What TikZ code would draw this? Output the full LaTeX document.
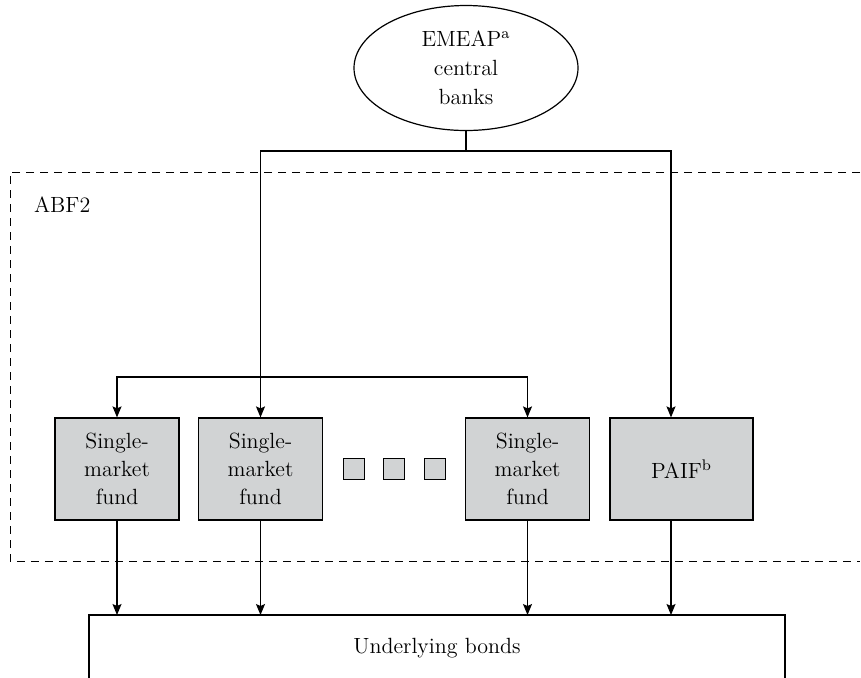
\documentclass[tikz,border=0pt]{standalone}
\usetikzlibrary{shapes.geometric,arrows.meta}
\definecolor{fundgray}{RGB}{209,211,212}
\begin{document}
\begin{tikzpicture}[x=0.5pt,y=-0.5pt,
    font=\fontsize{11}{14}\selectfont,
    fund/.style={draw, fill=fundgray, line width=0.6pt, minimum width=62pt,
      minimum height=51pt, align=center, inner sep=0pt},
    dotbox/.style={draw, fill=fundgray, line width=0.4pt, minimum size=10.5pt, inner sep=0pt},
    link/.style={line width=0.6pt},
    arrow/.style={link, -{Stealth[length=5.5pt,width=4.5pt,inset=1pt]}}]
  \useasboundingbox (0,0) rectangle (861,677);

  % Central banks
  \node[draw, ellipse, line width=0.6pt, minimum width=112pt, minimum height=62.5pt,
    inner sep=0pt, align=center] (banks) at (466,68) {EMEAP\textsuperscript{a}\\[0.6pt]central\\[0.6pt]banks};

  % ABF2 frame (open on the right)
  \draw[dash pattern=on 4pt off 3pt, line width=0.4pt] (860,172) -- (10,172) -- (10,561) -- (860,561);
  \node[anchor=west] (abf) at (27,205) {ABF2};

  % Funds
  \node[fund] (f1) at (117,469) {Single-\\market\\fund};
  \node[fund] (f2) at (260.5,469) {Single-\\market\\fund};
  \node[fund] (f3) at (527.5,469) {Single-\\market\\fund};
  \node[fund, minimum width=71.5pt] (paif) at (681.5,469) {PAIF\textsuperscript{b}};
  \foreach \x/\n in {353.5/1,394/2,434.5/3}
    \node[dotbox] (d\n) at (\x,468.5) {};

  % Underlying bonds (box runs off the bottom)
  \node (bonds) at (437,648) {Underlying bonds};
  \draw[link] (89,680) -- (89,615) coordinate (bl) -- (785,615) -- (785,680);

  % Connectors
  \coordinate (top) at (466,151);
  \coordinate (split) at (f2.north |- 0,377);
  \coordinate (paifin) at ([xshift=-5.25pt]paif.north);
  \coordinate (paifout) at ([xshift=-5.25pt]paif.south);
  \draw[link] (banks.south) -- (top);
  \draw[arrow] (top) -| (f2.north);
  \draw[arrow] (top) -| (paifin);
  \draw[arrow] (split) -| (f1.north);
  \draw[arrow] (split) -| (f3.north);
  \foreach \f in {f1,f2,f3}
    \draw[arrow] (\f.south) -- (\f.south |- bl);
  \draw[arrow] (paifout) -- (paifout |- bl);
\end{tikzpicture}
\end{document}
